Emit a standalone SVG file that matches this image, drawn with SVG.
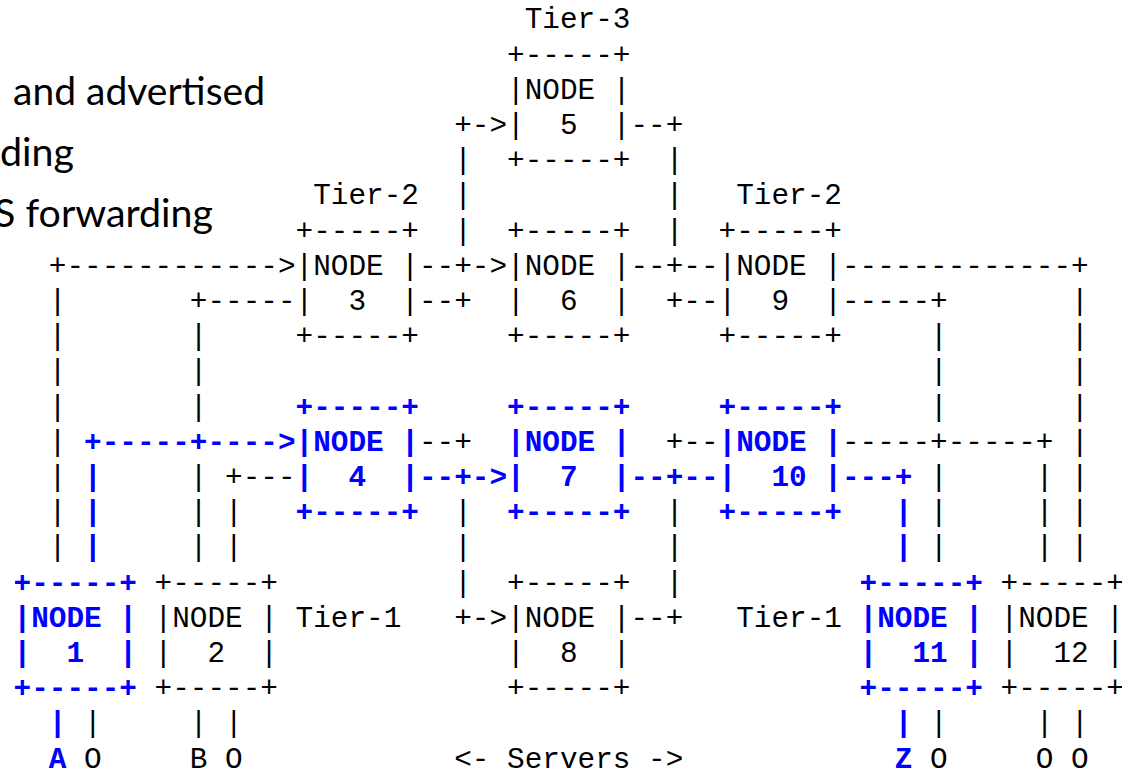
<svg xmlns="http://www.w3.org/2000/svg" width="1122" height="770" viewBox="0 0 1122 770">
<style>
text{font-family:"Liberation Mono","Courier New",monospace;font-size:29.37px;white-space:pre}
.k{fill:#000}
.b{fill:#0000ff;font-weight:bold}
.s{font-family:Lato,"Open Sans","Liberation Sans",sans-serif;font-size:39px;fill:#000}
</style>
<rect width="1122" height="770" fill="#fff"/>
<g id="slide-text">
<text class="s" x="13" y="105" textLength="252" lengthAdjust="spacingAndGlyphs">and advertised</text>
<text class="s" x="0" y="166" textLength="74" lengthAdjust="spacingAndGlyphs">ding</text>
<text class="s" x="-6" y="227" textLength="219" lengthAdjust="spacingAndGlyphs">S forwarding</text>
</g>
<g id="labels" class="k">
<text x="524.73" y="28.3">Tier-3</text>
<text x="313.23" y="204.3">Tier-2</text>
<text x="736.23" y="204.3">Tier-2</text>
<text x="295.6" y="626.7">Tier-1</text>
<text x="736.23" y="626.7">Tier-1</text>
<text x="454.23" y="767.5">&lt;- Servers -&gt;</text>
<text class="b" x="48.85" y="767.5">A</text>
<text x="84.1" y="767.5">O</text>
<text x="189.85" y="767.5">B</text>
<text x="225.1" y="767.5">O</text>
<text class="b" x="894.85" y="767.5">Z</text>
<text x="930.1" y="767.5">O</text>
<text x="1035.85" y="767.5">O</text>
<text x="1071.1" y="767.5">O</text>
</g>
<g id="node-5" class="k">
<text x="507.1" y="63.5">+-----+</text>
<text x="507.1" y="98.7">|NODE |</text>
<text x="507.1" y="133.9">|</text><text x="559.98" y="133.9">5</text><text x="612.85" y="133.9">|</text>
<text x="507.1" y="169.1">+-----+</text>
</g>
<g id="node-3" class="k">
<text x="295.6" y="239.5">+-----+</text>
<text x="295.6" y="274.7">|NODE |</text>
<text x="295.6" y="309.9">|</text><text x="348.48" y="309.9">3</text><text x="401.35" y="309.9">|</text>
<text x="295.6" y="345.1">+-----+</text>
</g>
<g id="node-6" class="k">
<text x="507.1" y="239.5">+-----+</text>
<text x="507.1" y="274.7">|NODE |</text>
<text x="507.1" y="309.9">|</text><text x="559.98" y="309.9">6</text><text x="612.85" y="309.9">|</text>
<text x="507.1" y="345.1">+-----+</text>
</g>
<g id="node-9" class="k">
<text x="718.6" y="239.5">+-----+</text>
<text x="718.6" y="274.7">|NODE |</text>
<text x="718.6" y="309.9">|</text><text x="771.48" y="309.9">9</text><text x="824.35" y="309.9">|</text>
<text x="718.6" y="345.1">+-----+</text>
</g>
<g id="node-4" class="b">
<text x="295.6" y="415.5">+-----+</text>
<text x="295.6" y="450.7">|NODE |</text>
<text x="295.6" y="485.9">|</text><text x="348.48" y="485.9">4</text><text x="401.35" y="485.9">|</text>
<text x="295.6" y="521.1">+-----+</text>
</g>
<g id="node-7" class="b">
<text x="507.1" y="415.5">+-----+</text>
<text x="507.1" y="450.7">|NODE |</text>
<text x="507.1" y="485.9">|</text><text x="559.98" y="485.9">7</text><text x="612.85" y="485.9">|</text>
<text x="507.1" y="521.1">+-----+</text>
</g>
<g id="node-10" class="b">
<text x="718.6" y="415.5">+-----+</text>
<text x="718.6" y="450.7">|NODE |</text>
<text x="718.6" y="485.9">|</text><text x="771.48" y="485.9">10</text><text x="824.35" y="485.9">|</text>
<text x="718.6" y="521.1">+-----+</text>
</g>
<g id="node-1" class="b">
<text x="13.6" y="591.5">+-----+</text>
<text x="13.6" y="626.7">|NODE |</text>
<text x="13.6" y="661.9">|</text><text x="66.48" y="661.9">1</text><text x="119.35" y="661.9">|</text>
<text x="13.6" y="697.1">+-----+</text>
</g>
<g id="node-2" class="k">
<text x="154.6" y="591.5">+-----+</text>
<text x="154.6" y="626.7">|NODE |</text>
<text x="154.6" y="661.9">|</text><text x="207.48" y="661.9">2</text><text x="260.35" y="661.9">|</text>
<text x="154.6" y="697.1">+-----+</text>
</g>
<g id="node-8" class="k">
<text x="507.1" y="591.5">+-----+</text>
<text x="507.1" y="626.7">|NODE |</text>
<text x="507.1" y="661.9">|</text><text x="559.98" y="661.9">8</text><text x="612.85" y="661.9">|</text>
<text x="507.1" y="697.1">+-----+</text>
</g>
<g id="node-11" class="b">
<text x="859.6" y="591.5">+-----+</text>
<text x="859.6" y="626.7">|NODE |</text>
<text x="859.6" y="661.9">|</text><text x="912.48" y="661.9">11</text><text x="965.35" y="661.9">|</text>
<text x="859.6" y="697.1">+-----+</text>
</g>
<g id="node-12" class="k">
<text x="1000.6" y="591.5">+-----+</text>
<text x="1000.6" y="626.7">|NODE |</text>
<text x="1000.6" y="661.9">|</text><text x="1053.48" y="661.9">12</text><text x="1106.35" y="661.9">|</text>
<text x="1000.6" y="697.1">+-----+</text>
</g>
<g id="connectors">
<g class="k">
<text x="454.23" y="133.9">+-&gt;</text><text x="630.48" y="133.9">--+</text>
<text x="454.23" y="169.1">|</text><text x="665.73" y="169.1">|</text>
<text x="454.23" y="204.3">|</text><text x="665.73" y="204.3">|</text>
<text x="454.23" y="239.5">|</text><text x="665.73" y="239.5">|</text>
<text x="48.85" y="274.7">+------------&gt;</text><text x="418.98" y="274.7">--+-&gt;</text><text x="630.48" y="274.7">--+--</text><text x="841.98" y="274.7">-------------+</text>
<text x="48.85" y="309.9">|</text><text x="189.85" y="309.9">+-----</text><text x="418.98" y="309.9">--+</text><text x="665.73" y="309.9">+--</text><text x="841.98" y="309.9">-----+</text><text x="1071.1" y="309.9">|</text>
<text x="48.85" y="345.1">|</text><text x="189.85" y="345.1">|</text><text x="930.1" y="345.1">|</text><text x="1071.1" y="345.1">|</text>
<text x="48.85" y="380.3">|</text><text x="189.85" y="380.3">|</text><text x="930.1" y="380.3">|</text><text x="1071.1" y="380.3">|</text>
<text x="48.85" y="415.5">|</text><text x="189.85" y="415.5">|</text><text x="930.1" y="415.5">|</text><text x="1071.1" y="415.5">|</text>
<text x="48.85" y="450.7">|</text><text x="418.98" y="450.7">--+</text><text x="665.73" y="450.7">+--</text><text x="841.98" y="450.7">-----+-----+</text><text x="1071.1" y="450.7">|</text>
<text x="48.85" y="485.9">|</text><text x="189.85" y="485.9">|</text><text x="225.1" y="485.9">+---</text><text x="930.1" y="485.9">|</text><text x="1035.85" y="485.9">|</text><text x="1071.1" y="485.9">|</text>
<text x="48.85" y="521.1">|</text><text x="189.85" y="521.1">|</text><text x="225.1" y="521.1">|</text><text x="454.23" y="521.1">|</text><text x="665.73" y="521.1">|</text><text x="930.1" y="521.1">|</text><text x="1035.85" y="521.1">|</text><text x="1071.1" y="521.1">|</text>
<text x="48.85" y="556.3">|</text><text x="189.85" y="556.3">|</text><text x="225.1" y="556.3">|</text><text x="454.23" y="556.3">|</text><text x="665.73" y="556.3">|</text><text x="930.1" y="556.3">|</text><text x="1035.85" y="556.3">|</text><text x="1071.1" y="556.3">|</text>
<text x="454.23" y="591.5">|</text><text x="665.73" y="591.5">|</text>
<text x="454.23" y="626.7">+-&gt;</text><text x="630.48" y="626.7">--+</text>
<text x="84.1" y="732.3">|</text><text x="189.85" y="732.3">|</text><text x="225.1" y="732.3">|</text><text x="930.1" y="732.3">|</text><text x="1035.85" y="732.3">|</text><text x="1071.1" y="732.3">|</text>
</g>
<g class="b">
<text x="84.1" y="450.7">+-----+----&gt;</text>
<text x="84.1" y="485.9">|</text><text x="418.98" y="485.9">--+-&gt;</text><text x="630.48" y="485.9">--+--</text><text x="841.98" y="485.9">---+</text>
<text x="84.1" y="521.1">|</text><text x="894.85" y="521.1">|</text>
<text x="84.1" y="556.3">|</text><text x="894.85" y="556.3">|</text>
<text x="48.85" y="732.3">|</text><text x="894.85" y="732.3">|</text>
</g>
</g>
</svg>
